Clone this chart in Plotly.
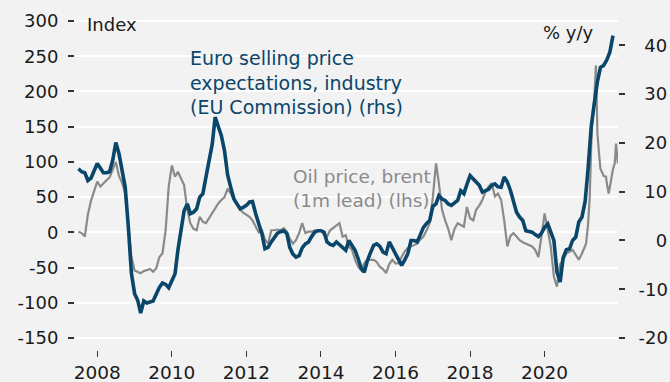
import pandas as pd
import plotly.graph_objects as go

# ---------------------------------------------------------------------------
# Data
# ---------------------------------------------------------------------------
# Euro area selling price expectations, industry (EU Commission), % y/y, monthly
selling_price_start = "2007-07-01"
selling_price = [
    # 2007 (Jul-Dec)
    14.7, 14.1, 13.9, 12.3, 12.8, 14.3,
    # 2008
    15.8, 14.8, 13.9, 13.9, 14.1, 16.5, 20.1, 17.8, 14.0, 10.9, 2.7, -6.8,
    # 2009
    -10.9, -12.3, -14.9, -12.4, -12.8, -12.6, -12.4, -11.0, -9.6, -8.7, -9.0, -9.7,
    # 2010
    -8.2, -6.8, -2.0, 2.5, 6.1, 7.5, 5.5, 5.8, 6.5, 8.9, 9.6, 13.0,
    # 2011
    16.5, 19.8, 25.3, 23.5, 21.5, 18.4, 13.5, 10.9, 8.5, 7.5, 6.5, 6.8,
    # 2012
    7.2, 7.9, 8.0, 5.5, 3.2, 1.4, -1.7, -1.4, -0.3, 0.7, 1.5, 1.8,
    # 2013
    2.0, 1.4, -1.4, -2.8, -3.4, -3.1, -1.5, -0.7, -0.3, 0.8, 1.7, 2.0,
    # 2014
    2.0, 1.7, -0.3, -0.8, -1.0, -0.3, -0.8, -1.4, -2.0, 0.0, -1.0, -2.0,
    # 2015
    -3.8, -5.8, -6.5, -4.1, -2.5, -1.0, -0.7, -1.2, -2.4, -2.7, -0.3, -1.5,
    # 2016
    -2.6, -4.1, -5.1, -4.0, -2.7, 0.0, 0.0, -0.3, 1.2, 2.7, 3.5, 4.1,
    # 2017
    7.0, 7.5, 9.2, 8.5, 8.2, 7.5, 7.2, 7.8, 8.2, 10.2, 9.6, 11.5,
    # 2018
    13.3, 12.6, 12.0, 11.3, 9.9, 10.2, 10.5, 11.3, 11.6, 11.0, 10.9, 13.0,
    # 2019
    12.0, 10.2, 8.0, 5.8, 4.8, 4.1, 2.0, 1.8, 1.7, 1.2, 0.8, 1.5,
    # 2020
    2.7, 3.4, 1.5, 0.0, -6.5, -8.5, -3.5, -1.9, -1.7, 0.0, 0.7, 3.8,
    # 2021 (Jan-Nov)
    4.8, 8.0, 14.5, 23.2, 28.0, 32.5, 35.5, 35.9, 37.0, 38.6, 42.0,
]

# Oil price, Brent, % y/y with a one-month lead, monthly to end-2020
oil_start = "2007-07-01"
oil_monthly = [
    # 2007 (Jul-Dec)
    1, -1, -6, 25, 45, 58,
    # 2008
    72, 65, 70, 74, 78, 88, 100, 80, 70, 55, 8, -35,
    # 2009
    -54, -56, -58, -55, -54, -52, -56, -51, -35, -30, 3, 65,
    # 2010
    95, 79, 86, 75, 67, 32, 13, 5, 3, 22, 15, 13,
    # 2011
    20, 27, 35, 41, 46, 50, 62, 55, 46, 40, 32, 28,
    # 2012
    25, 22, 17, 8, 0, 3, -10, -16, 3, 3, 4, 3,
    # 2013
    6, 1, -9, -16, -11, -1, 13, -1, 1, 1, 3, 3,
    # 2014
    3, -4, -6, 3, 6, 10, 13, -6, -4, -20, -25, -39,
    # 2015
    -49, -54, -44, -39, -39, -39, -42, -49, -52, -58, -45, -39,
    # 2016
    -44, -44, -35, -27, -22, -20, -18, -16, -10, -6, 3, 13,
    # 2017
    50, 98, 70, 32, 17, 5, -11, 5, 13, 10, 8, 36,
    # 2018
    20, 17, 32, 38, 46, 58, 65, 70, 51, 55, 46, 17,
    # 2019
    -20, -5, -1, -6, -11, -14, -16, -18, -20, -25, -35, -6,
    # 2020
    27, 3, -20, -63, -77, -45, -39, -30, -28, -25, -32, -39,
]
# 2021 observations are more volatile, so they are kept at a finer spacing
oil_2021_dates = [
    "2021-01-01", "2021-02-10", "2021-03-01", "2021-03-18", "2021-04-01",
    "2021-04-15", "2021-05-01", "2021-05-18", "2021-05-26", "2021-06-01",
    "2021-06-20", "2021-07-01", "2021-07-22", "2021-08-01", "2021-08-25",
    "2021-09-01", "2021-09-20", "2021-10-01", "2021-10-15", "2021-11-01",
    "2021-11-18", "2021-12-01", "2021-12-18",
]
oil_2021 = [
    -30, -16, 10, 50, 120,
    169, 188, 237, 188, 141,
    107, 90, 84, 80, 79,
    70, 55, 65, 79, 90,
    98, 126, 98,
]

left_ticks = [-150, -100, -50, 0, 50, 100, 150, 200, 250, 300]
right_ticks = [-20, -10, 0, 10, 20, 30, 40]

# ---------------------------------------------------------------------------
# Layout helpers (pixel geometry of the plotting area)
# ---------------------------------------------------------------------------
W, H = 670, 382
PL, PR, PT, PB = 75, 618, 8, 350


def fx(x):
    return (x - PL) / (PR - PL)


def fy(y):
    return (PB - y) / (PB - PT)


# left axis -150..300 spans the same height as right axis -20..45
LEFT_RANGE = [-167.0, 318.5]
RIGHT_RANGE = [-20 + (v + 150) * 65.0 / 450.0 for v in LEFT_RANGE]

BLUE = "#0a466a"
GREY = "#8a8a8a"
BG = "#f2f2f2"
FONT = "DejaVu Sans"
TXT = "#1a1a1a"

sp_dates = pd.date_range(selling_price_start, periods=len(selling_price), freq="MS")
oil_dates = list(pd.date_range(oil_start, periods=len(oil_monthly), freq="MS")) + list(
    pd.to_datetime(oil_2021_dates)
)
oil_values = oil_monthly + oil_2021

fig = go.Figure()

fig.add_trace(
    go.Scatter(
        x=sp_dates,
        y=selling_price,
        yaxis="y2",
        mode="lines",
        line=dict(color=BLUE, width=3.6),
        name="Euro selling price expectations, industry (EU Commission) (rhs)",
        hoverinfo="skip",
    )
)
fig.add_trace(
    go.Scatter(
        x=oil_dates,
        y=oil_values,
        yaxis="y",
        mode="lines",
        line=dict(color=GREY, width=2.2),
        name="Oil price, brent (1m lead) (lhs)",
        hoverinfo="skip",
    )
)

right_text = []
for v in right_ticks:
    if v < 0:
        right_text.append(f"-{abs(v)}")
    elif v == 0:
        right_text.append("\u2007\u00a00")
    else:
        right_text.append(f"\u00a0{v}")

fig.update_layout(
    width=W,
    height=H,
    margin=dict(l=PL, r=W - PR, t=PT, b=H - PB, autoexpand=False),
    paper_bgcolor=BG,
    plot_bgcolor=BG,
    showlegend=False,
    font=dict(family=FONT, size=18, color=TXT),
    xaxis=dict(
        type="date",
        range=["2007-05-28", "2021-12-20"],
        tick0="2008-01-01",
        dtick="M24",
        tickformat="%Y",
        ticks="outside",
        ticklen=6,
        tickwidth=1.2,
        tickcolor="#333333",
        ticklabelstandoff=0,
        showgrid=False,
        zeroline=False,
        showline=False,
        automargin=False,
        tickfont=dict(size=18.5, color=TXT),
    ),
    yaxis=dict(
        range=LEFT_RANGE,
        tickmode="array",
        tickvals=left_ticks,
        ticktext=[str(v) for v in left_ticks],
        ticks="outside",
        ticklen=6,
        tickwidth=1.5,
        tickcolor="#333333",
        ticklabelstandoff=6,
        showgrid=True,
        gridcolor="#ffffff",
        gridwidth=2,
        zeroline=False,
        showline=False,
        automargin=False,
        tickfont=dict(size=18, color=TXT),
    ),
    yaxis2=dict(
        range=RIGHT_RANGE,
        overlaying="y",
        side="right",
        tickmode="array",
        tickvals=right_ticks,
        ticktext=right_text,
        ticks="outside",
        ticklen=6,
        tickwidth=1.5,
        tickcolor="#333333",
        ticklabelstandoff=10,
        showgrid=False,
        zeroline=False,
        showline=False,
        automargin=False,
        tickfont=dict(size=18, color=TXT),
    ),
)

annotations = [
    dict(text="Index", x=fx(85), y=fy(24), xanchor="left", yanchor="middle",
         font=dict(size=18, color=TXT)),
    dict(text="% y/y", x=fx(541), y=fy(32), xanchor="left", yanchor="middle",
         font=dict(size=18, color=TXT)),
    dict(text="Euro selling price<br>expectations, industry<br>(EU Commission) (rhs)",
         x=fx(188), y=fy(45), xanchor="left", yanchor="top", align="left",
         font=dict(size=19, color=BLUE)),
    dict(text="Oil price, brent<br>(1m lead) (lhs)",
         x=fx(291), y=fy(164), xanchor="left", yanchor="top", align="left",
         font=dict(size=18.5, color=GREY)),
]
for a in annotations:
    a.update(xref="paper", yref="paper", showarrow=False)
fig.update_layout(annotations=annotations)

fig.write_html("out.html")
